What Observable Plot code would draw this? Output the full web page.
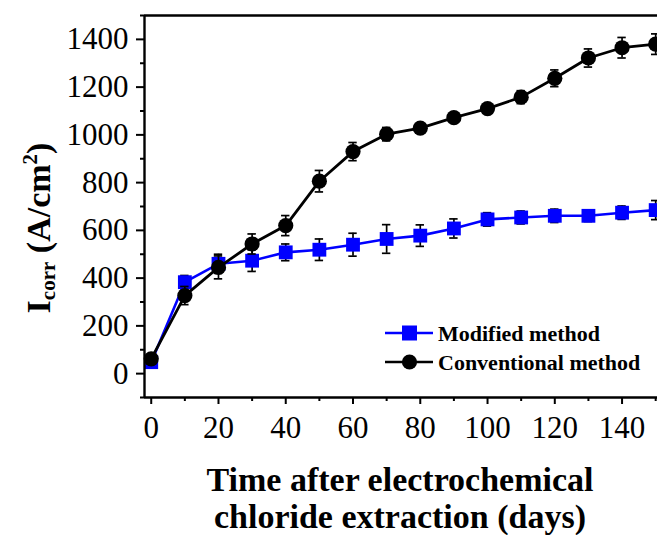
<!DOCTYPE html>
<html>
<head>
<meta charset="utf-8">
<script src="https://cdn.jsdelivr.net/npm/d3@7"></script>
<script src="https://cdn.jsdelivr.net/npm/@observablehq/plot@0.6"></script>
<style>
  html, body { margin: 0; padding: 0; background: white; overflow: hidden; }
  #chart svg { display: block; max-width: none; }
  #chart svg text { font-family: "Liberation Serif", "Times New Roman", serif; }
</style>
</head>
<body>
<div id="chart"></div>
<script>
// ---- data ----
const days = [0, 10, 20, 30, 40, 50, 60, 70, 80, 90, 100, 110, 120, 130, 140, 150];
const modified = [48, 383, 460, 473, 508, 519, 540, 564, 578, 608, 646, 654, 661, 661, 674, 685];
const modifiedErr = [10, 28, 40, 45, 35, 45, 48, 60, 45, 40, 28, 27, 28, 24, 28, 40];
const conventional = [62, 327, 445, 543, 620, 806, 930, 1003, 1028, 1072, 1110, 1158, 1237, 1322, 1365, 1380];
const conventionalErr = [10, 38, 48, 42, 42, 45, 38, 28, 18, 18, 15, 27, 35, 38, 43, 43];
const xTicks = [0, 20, 40, 60, 80, 100, 120, 140];
const xMinorTicks = [10, 30, 50, 70, 90, 110, 130, 150];
const yTicks = [0, 200, 400, 600, 800, 1000, 1200, 1400];
const yMinorTicks = [-100, 100, 300, 500, 700, 900, 1100, 1300, 1500];
const xDomain = [-2, 155];
const yDomain = [-100, 1500];
const seriesNames = ["Modified method", "Conventional method"];
const seriesColors = ["#0000ff", "#000000"];
const xTitle = ["Time after electrochemical", "chloride extraction (days)"];

const modRows = days.map((d, i) => ({x: d, y: modified[i], lo: modified[i] - modifiedErr[i], hi: modified[i] + modifiedErr[i]}));
const convRows = days.map((d, i) => ({x: d, y: conventional[i], lo: conventional[i] - conventionalErr[i], hi: conventional[i] + conventionalErr[i]}));

const W = 657, H = 535;
const capHalf = 1.25;
const fmt = d3.format("d");
const serif = "Liberation Serif";

function errMarks(rows) {
  return [
    Plot.ruleX(rows, {x: "x", y1: "lo", y2: "hi", stroke: "black", strokeWidth: 1.7}),
    Plot.ruleY(rows, {y: "hi", x1: d => d.x - capHalf, x2: d => d.x + capHalf, stroke: "black", strokeWidth: 1.7}),
    Plot.ruleY(rows, {y: "lo", x1: d => d.x - capHalf, x2: d => d.x + capHalf, stroke: "black", strokeWidth: 1.7})
  ];
}

const plot = Plot.plot({
  width: W,
  height: H,
  marginLeft: 144,
  marginRight: 0,
  marginTop: 15,
  marginBottom: 138,
  style: {fontFamily: serif, fontSize: "30px", color: "black", background: "white"},
  x: {domain: xDomain, range: [144, 672]},
  y: {domain: yDomain, range: [397, 15]},
  marks: [
    ...errMarks(modRows),
    Plot.line(modRows, {x: "x", y: "y", stroke: seriesColors[0], strokeWidth: 2.6}),
    Plot.dot(modRows, {x: "x", y: "y", symbol: "square", r: 7.8, fill: seriesColors[0], stroke: "none"}),
    ...errMarks(convRows),
    Plot.line(convRows, {x: "x", y: "y", stroke: seriesColors[1], strokeWidth: 2.8}),
    Plot.dot(convRows, {x: "x", y: "y", symbol: "circle", r: 7.6, fill: seriesColors[1], stroke: "none"}),
    Plot.axisX(xTicks, {anchor: "bottom", tickSize: 7, tickPadding: 11, fontSize: 31, fontFamily: serif, strokeWidth: 2, tickFormat: fmt, label: null}),
    Plot.axisX(xMinorTicks, {anchor: "bottom", tickSize: 4, strokeWidth: 2, tickFormat: () => "", label: null}),
    Plot.axisY(yTicks, {anchor: "left", tickSize: 8, tickPadding: 8, fontSize: 31, fontFamily: serif, strokeWidth: 2, tickFormat: fmt, label: null}),
    Plot.axisY(yMinorTicks, {anchor: "left", tickSize: 4, strokeWidth: 2, tickFormat: () => "", label: null}),
    Plot.ruleX([xDomain[0]], {y1: yDomain[0], y2: yDomain[1], stroke: "black", strokeWidth: 2.4}),
    Plot.ruleY([yDomain[0]], {x1: xDomain[0], x2: xDomain[1], stroke: "black", strokeWidth: 2.4}),
    Plot.ruleY([yDomain[1]], {x1: xDomain[0], x2: xDomain[1], stroke: "black", strokeWidth: 2.4})
  ]
});

document.getElementById("chart").appendChild(plot);

// ---- titles and legend ----
const svg = d3.select(plot);

// x-axis title (two lines)
const xt = svg.append("text")
  .attr("font-family", serif).attr("font-weight", "bold").attr("font-size", 34)
  .attr("text-anchor", "middle").attr("fill", "black");
xt.append("tspan").attr("x", 400).attr("y", 491).text(xTitle[0]);
xt.append("tspan").attr("x", 400).attr("y", 528).text(xTitle[1]);

// y-axis title with subscript / superscript
const yt = svg.append("text")
  .attr("font-family", serif).attr("font-weight", "bold").attr("font-size", 34)
  .attr("text-anchor", "middle").attr("fill", "black")
  .attr("transform", "translate(50,228) rotate(-90)");
yt.append("tspan").text("I");
yt.append("tspan").attr("font-size", 21).attr("dy", 5).text("corr");
yt.append("tspan").attr("dy", -5).text(" (A/cm");
yt.append("tspan").attr("font-size", 21).attr("dy", -13).text("2");
yt.append("tspan").attr("dy", 13).text(")");

// legend
const leg = svg.append("g");
const legRows = [{y: 333, name: seriesNames[0], color: seriesColors[0], sym: "square"},
                 {y: 362, name: seriesNames[1], color: seriesColors[1], sym: "circle"}];
legRows.forEach(r => {
  leg.append("line").attr("x1", 385).attr("x2", 433).attr("y1", r.y).attr("y2", r.y)
    .attr("stroke", r.color).attr("stroke-width", 2.6);
  if (r.sym === "square") {
    leg.append("rect").attr("x", 402).attr("y", r.y - 7.5).attr("width", 15).attr("height", 15).attr("fill", r.color);
  } else {
    leg.append("circle").attr("cx", 409.5).attr("cy", r.y).attr("r", 7.6).attr("fill", r.color);
  }
  leg.append("text").attr("x", 438).attr("y", r.y + 7.5).attr("text-anchor", "start")
    .attr("font-family", serif).attr("font-weight", "bold").attr("font-size", 22)
    .attr("fill", "black").text(r.name);
});
</script>
</body>
</html>
